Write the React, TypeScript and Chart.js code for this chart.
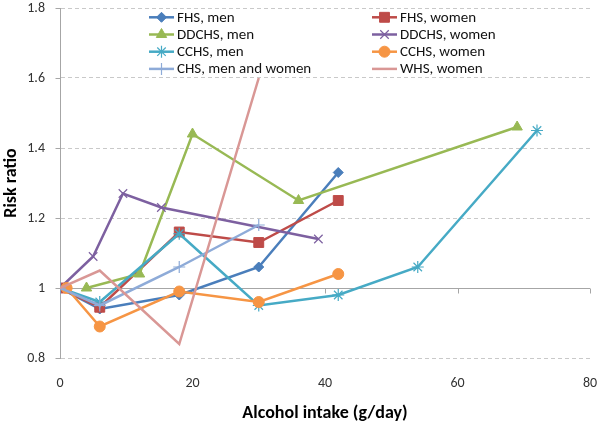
import React, { useEffect, useRef } from "react";
import { Chart, registerables } from "chart.js";
import { drawPoint } from "chart.js/helpers";

Chart.register(...registerables);

// ---- Data ----
const seriesNames = [
  "FHS, men",
  "FHS, women",
  "DDCHS, men",
  "DDCHS, women",
  "CCHS, men",
  "CCHS, women",
  "CHS, men and women",
  "WHS, women",
];

const fhsMenX = [0, 6, 18, 30, 42];
const fhsMenY = [1, 0.94, 0.98, 1.06, 1.33];

const fhsWomenX = [0, 6, 18, 30, 42];
const fhsWomenY = [1, 0.945, 1.16, 1.13, 1.25];

const ddchsMenX = [4, 12, 20, 36, 69];
const ddchsMenY = [1.0, 1.04, 1.44, 1.25, 1.46];

const ddchsWomenX = [0, 5, 9.5, 15.3, 39];
const ddchsWomenY = [1, 1.09, 1.27, 1.23, 1.14];

const cchsMenX = [0, 6, 18, 30, 42, 54, 72];
const cchsMenY = [1, 0.96, 1.155, 0.95, 0.98, 1.06, 1.45];

const cchsWomenX = [1, 6, 18, 30, 42];
const cchsWomenY = [1, 0.89, 0.99, 0.96, 1.04];

const chsX = [0, 6, 18, 30];
const chsY = [1, 0.95, 1.06, 1.18];

const whsX = [0, 6, 18, 30];
const whsY = [1, 1.05, 0.84, 1.6];

const xTicks = [0, 20, 40, 60, 80];
const yTicks = [0.8, 1.0, 1.2, 1.4, 1.6, 1.8];

const xTitle = "Alcohol intake (g/day)";
const yTitle = "Risk ratio";

// ---- Styles ----
const FONT = "Carlito, Calibri, Lato, 'Open Sans', sans-serif";

const styles = [
  { color: "#4A7EBB", point: "rectRot", radius: 5, fill: true, pbw: 1 },
  { color: "#BE4B48", point: "rect", radius: 7, fill: true, pbw: 1 },
  { color: "#98B954", point: "triangle", radius: 6, fill: true, pbw: 1 },
  { color: "#7D60A0", point: "crossRot", radius: 6, fill: false, pbw: 1.2 },
  { color: "#46AAC5", point: "star", radius: 6, fill: false, pbw: 1.2 },
  { color: "#F69544", point: "circle", radius: 5.5, fill: true, pbw: 1 },
  { color: "#8EABD8", point: "cross", radius: 6, fill: false, pbw: 1.2 },
  { color: "#D99795", point: false as any, radius: 0, fill: false, pbw: 0 },
];

const seriesData = [
  [fhsMenX, fhsMenY],
  [fhsWomenX, fhsWomenY],
  [ddchsMenX, ddchsMenY],
  [ddchsWomenX, ddchsWomenY],
  [cchsMenX, cchsMenY],
  [cchsWomenX, cchsWomenY],
  [chsX, chsY],
  [whsX, whsY],
];

const unityLinePlugin = {
  id: "unityLine",
  beforeDatasetsDraw(chart: any) {
    const { ctx, chartArea, scales } = chart;
    const y = Math.round(scales.y.getPixelForValue(1)) + 0.5;
    ctx.save();
    ctx.strokeStyle = "#A6A6A6";
    ctx.lineWidth = 1;
    ctx.beginPath();
    ctx.moveTo(chartArea.left, y);
    ctx.lineTo(chartArea.right, y);
    for (const t of xTicks) {
      const x = Math.round(scales.x.getPixelForValue(t)) + 0.5;
      ctx.moveTo(x, y);
      ctx.lineTo(x, y + 5);
    }
    // y-axis tick marks
    const lx = Math.round(chartArea.left) + 0.5;
    for (const t of yTicks) {
      const ty = Math.round(scales.y.getPixelForValue(t)) + 0.5;
      ctx.moveTo(lx - 5, ty);
      ctx.lineTo(lx, ty);
    }
    ctx.stroke();
    ctx.restore();
  },
};

const legendPlugin = {
  id: "customLegend",
  afterDraw(chart: any) {
    const { ctx, chartArea } = chart;
    const colStarts = [chartArea.left + 89, chartArea.left + 312];
    const rowY0 = chartArea.top + 9.3;
    const rowH = 17.2;
    ctx.save();
    ctx.font = `15px ${FONT}`;
    ctx.textBaseline = "middle";
    ctx.textAlign = "left";
    seriesNames.forEach((name, i) => {
      const col = i % 2;
      const row = Math.floor(i / 2);
      const x0 = colStarts[col];
      const y = rowY0 + row * rowH;
      const s = styles[i];
      ctx.strokeStyle = s.color;
      ctx.lineWidth = 2.5;
      ctx.beginPath();
      ctx.moveTo(x0, y);
      ctx.lineTo(x0 + 25, y);
      ctx.stroke();
      if (s.point) {
        ctx.fillStyle = s.color;
        ctx.strokeStyle = s.color;
        ctx.lineWidth = s.pbw;
        drawPoint(ctx, { pointStyle: s.point, radius: s.radius, rotation: 0, borderWidth: s.pbw } as any, x0 + 12.5, y);
      }
      ctx.fillStyle = "#111";
      ctx.fillText(name, x0 + 28, y + 0.5);
    });
    ctx.restore();
  },
};

export default function App() {
  const ref = useRef<HTMLCanvasElement>(null);

  useEffect(() => {
    if (!ref.current) return;
    const datasets = seriesNames.map((name, i) => {
      const [xs, ys] = seriesData[i];
      const s = styles[i];
      return {
        label: name,
        data: xs.map((x, j) => ({ x, y: ys[j] })),
        borderColor: s.color,
        backgroundColor: s.fill ? s.color : "rgba(0,0,0,0)",
        pointBorderColor: s.color,
        pointBackgroundColor: s.fill ? s.color : "rgba(0,0,0,0)",
        borderWidth: 2.5,
        pointStyle: s.point,
        pointRadius: s.radius,
        pointBorderWidth: s.pbw,
        pointHoverRadius: s.radius,
        showLine: true,
        tension: 0,
        order: -i,
      };
    });

    const chart = new Chart(ref.current, {
      type: "scatter",
      data: { datasets },
      plugins: [unityLinePlugin, legendPlugin],
      options: {
        animation: false,
        responsive: false,
        devicePixelRatio: 1,
        layout: { padding: { left: 0, right: 12, top: 8, bottom: 0 } },
        plugins: {
          legend: { display: false },
          tooltip: { enabled: false },
        },
        scales: {
          x: {
            type: "linear",
            min: 0,
            max: 80,
            afterBuildTicks: (scale: any) => {
              scale.ticks = xTicks.map((v) => ({ value: v }));
            },
            afterFit: (scale: any) => {
              scale.height = 68;
              scale.paddingLeft = 0;
              scale.paddingRight = 0;
            },
            grid: { display: false, drawTicks: false },
            border: { display: false },
            ticks: {
              padding: 17,
              color: "#333",
              font: { family: FONT, size: 14 },
              callback: (v: any) => String(v),
              maxRotation: 0,
            },
            title: {
              display: true,
              text: xTitle,
              color: "#000",
              font: { family: FONT, size: 18, weight: "bold" },
              padding: { top: 0, bottom: 2 },
            },
          },
          y: {
            type: "linear",
            min: 0.8,
            max: 1.8,
            afterBuildTicks: (scale: any) => {
              scale.ticks = yTicks.map((v) => ({ value: v }));
            },
            afterFit: (scale: any) => {
              scale.width = 60;
              scale.paddingTop = 0;
              scale.paddingBottom = 0;
            },
            grid: {
              color: (c: any) =>
                c.tick && Math.abs(c.tick.value - 1) < 1e-6 ? "rgba(0,0,0,0)" : "#C9C9C9",
              drawTicks: false,
              lineWidth: 1,
            },
            border: { display: true, color: "#A6A6A6", dash: [4, 3] },
            ticks: {
              padding: 15,
              color: "#333",
              font: { family: FONT, size: 14 },
              callback: (v: any) => String(Number(Number(v).toFixed(1))),
            },
            title: {
              display: true,
              text: yTitle,
              color: "#000",
              font: { family: FONT, size: 18, weight: "bold" },
              padding: { top: 1, bottom: 0 },
            },
          },
        },
      } as any,
    });
    return () => chart.destroy();
  }, []);

  return (
    <div style={{ position: "absolute", left: 0, top: 0, width: 602, height: 426 }}>
      <canvas ref={ref} width={602} height={426} style={{ display: "block" }} />
    </div>
  );
}
